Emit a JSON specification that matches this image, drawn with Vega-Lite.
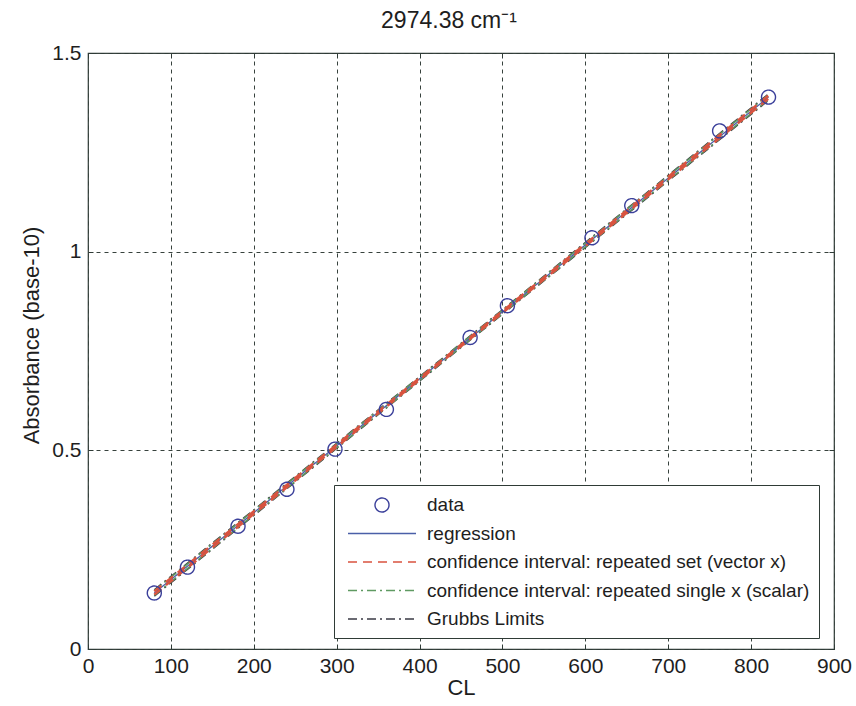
{
  "$schema": "https://vega.github.io/schema/vega-lite/v6.json",
  "width": 746,
  "height": 596,
  "autosize": {"type": "none"},
  "padding": {"left": 88, "top": 53, "right": 22, "bottom": 57},
  "background": "white",
  "title": {"text": "2974.38 cm⁻¹", "fontSize": 23, "fontWeight": "normal", "color": "#1e1e1e", "offset": 9, "anchor": "middle", "dx": -12},
  "datasets": {
    "pts": [
      {"series": "data", "CL": 80, "A": 0.141},
      {"series": "data", "CL": 120, "A": 0.206},
      {"series": "data", "CL": 181, "A": 0.309},
      {"series": "data", "CL": 240, "A": 0.402},
      {"series": "data", "CL": 298, "A": 0.503},
      {"series": "data", "CL": 360, "A": 0.603},
      {"series": "data", "CL": 461, "A": 0.784},
      {"series": "data", "CL": 506, "A": 0.864},
      {"series": "data", "CL": 608, "A": 1.035},
      {"series": "data", "CL": 656, "A": 1.116},
      {"series": "data", "CL": 762, "A": 1.304},
      {"series": "data", "CL": 821, "A": 1.389}
    ],
    "reg": [
      {"series": "regression", "bound": "fit", "CL": 80, "A": 0.141},
      {"series": "regression", "bound": "fit", "CL": 821, "A": 1.389}
    ],
    "civ": [
      {"series": "confidence interval: repeated set (vector x)", "bound": "upper", "CL": 80, "A": 0.145},
      {"series": "confidence interval: repeated set (vector x)", "bound": "upper", "CL": 450, "A": 0.766},
      {"series": "confidence interval: repeated set (vector x)", "bound": "upper", "CL": 821, "A": 1.393},
      {"series": "confidence interval: repeated set (vector x)", "bound": "lower", "CL": 80, "A": 0.137},
      {"series": "confidence interval: repeated set (vector x)", "bound": "lower", "CL": 450, "A": 0.762},
      {"series": "confidence interval: repeated set (vector x)", "bound": "lower", "CL": 821, "A": 1.385}
    ],
    "cis": [
      {"series": "confidence interval: repeated single x (scalar)", "bound": "upper", "CL": 80, "A": 0.147},
      {"series": "confidence interval: repeated single x (scalar)", "bound": "upper", "CL": 450, "A": 0.768},
      {"series": "confidence interval: repeated single x (scalar)", "bound": "upper", "CL": 821, "A": 1.395},
      {"series": "confidence interval: repeated single x (scalar)", "bound": "lower", "CL": 80, "A": 0.135},
      {"series": "confidence interval: repeated single x (scalar)", "bound": "lower", "CL": 450, "A": 0.760},
      {"series": "confidence interval: repeated single x (scalar)", "bound": "lower", "CL": 821, "A": 1.383}
    ],
    "grb": [
      {"series": "Grubbs Limits", "bound": "upper", "CL": 80, "A": 0.149},
      {"series": "Grubbs Limits", "bound": "upper", "CL": 450, "A": 0.769},
      {"series": "Grubbs Limits", "bound": "upper", "CL": 821, "A": 1.397},
      {"series": "Grubbs Limits", "bound": "lower", "CL": 80, "A": 0.133},
      {"series": "Grubbs Limits", "bound": "lower", "CL": 450, "A": 0.759},
      {"series": "Grubbs Limits", "bound": "lower", "CL": 821, "A": 1.381}
    ]
  },
  "config": {
    "font": "Liberation Sans",
    "view": {"stroke": "#2f3b36", "strokeWidth": 1.2},
    "axis": {
      "domain": false,
      "tickColor": "#2f3b36",
      "labelFontSize": 21,
      "labelColor": "#1e1e1e",
      "titleFontSize": 22,
      "titleFontWeight": "normal",
      "titleColor": "#1e1e1e",
      "gridDash": [4, 4],
      "gridColor": "#37423d",
      "gridOpacity": 1,
      "gridWidth": 1
    }
  },
  "resolve": {"axis": {"x": "independent", "y": "independent"}},
  "layer": [
    {
      "data": {"name": "grb"},
      "mark": {"type": "line", "strokeWidth": 1.6},
      "encoding": {
        "x": {"field": "CL", "type": "quantitative", "scale": {"domain": [0, 900], "nice": false},
              "axis": {"orient": "top", "labels": false, "grid": false, "title": null, "values": [0,100,200,300,400,500,600,700,800,900], "tickSize": -5}},
        "y": {"field": "A", "type": "quantitative", "scale": {"domain": [0, 1.5], "nice": false, "zero": false},
              "axis": {"orient": "right", "labels": false, "grid": false, "title": null, "values": [0, 0.5, 1, 1.5], "tickSize": -5}},
        "detail": {"field": "bound"},
        "color": {"field": "series", "type": "nominal",
                  "scale": {"domain": ["data", "regression", "confidence interval: repeated set (vector x)", "confidence interval: repeated single x (scalar)", "Grubbs Limits"],
                            "range": ["#3a3f9a", "#4a5fa8", "#d9533f", "#5f9a62", "#3a3a44"]}},
        "strokeDash": {"field": "series", "type": "nominal",
                  "scale": {"domain": ["data", "regression", "confidence interval: repeated set (vector x)", "confidence interval: repeated single x (scalar)", "Grubbs Limits"],
                            "range": [[1, 0], [1, 0], [9, 6], [9, 4, 2, 4], [9, 4, 2, 4]]}}
      }
    },
    {
      "data": {"name": "cis"},
      "mark": {"type": "line", "strokeWidth": 1.6},
      "encoding": {
        "x": {"field": "CL", "type": "quantitative", "axis": null},
        "y": {"field": "A", "type": "quantitative", "axis": null},
        "detail": {"field": "bound"},
        "color": {"field": "series", "type": "nominal"},
        "strokeDash": {"field": "series", "type": "nominal"}
      }
    },
    {
      "data": {"name": "reg"},
      "mark": {"type": "line", "strokeWidth": 1.3},
      "encoding": {
        "x": {"field": "CL", "type": "quantitative", "axis": null},
        "y": {"field": "A", "type": "quantitative", "axis": null},
        "detail": {"field": "bound"},
        "color": {"field": "series", "type": "nominal"},
        "strokeDash": {"field": "series", "type": "nominal"}
      }
    },
    {
      "data": {"name": "civ"},
      "mark": {"type": "line", "strokeWidth": 2.4},
      "encoding": {
        "x": {"field": "CL", "type": "quantitative", "axis": null},
        "y": {"field": "A", "type": "quantitative", "axis": null},
        "detail": {"field": "bound"},
        "color": {"field": "series", "type": "nominal"},
        "strokeDash": {"field": "series", "type": "nominal"}
      }
    },
    {
      "data": {"name": "pts"},
      "mark": {"type": "point", "filled": false, "size": 400, "strokeWidth": 1.4, "opacity": 1},
      "encoding": {
        "x": {"field": "CL", "type": "quantitative",
              "axis": {"orient": "bottom", "title": "CL", "values": [0,100,200,300,400,500,600,700,800,900], "format": "d", "grid": true, "tickSize": -5, "labelPadding": 11, "titlePadding": 1, "labelFlush": false}},
        "y": {"field": "A", "type": "quantitative",
              "axis": {"orient": "left", "title": "Absorbance (base-10)", "values": [0, 0.5, 1, 1.5], "format": "~g", "grid": true, "tickSize": -5, "labelPadding": 12, "titlePadding": 8, "titleY": 282, "labelFlush": false}},
        "color": {"field": "series", "type": "nominal",
                  "legend": {"title": null, "orient": "none", "legendX": 246, "legendY": 432,
                             "strokeColor": "#2f3b36", "fillColor": "white", "padding": 9,
                             "labelFontSize": 19, "labelColor": "#1e1e1e", "labelOffset": 34,
                             "symbolSize": 400, "symbolStrokeWidth": 1.4, "symbolOffset": 28, "rowPadding": 7.5,
                             "labelLimit": 600,
                             "encode": {"symbols": {"update": {"fill": {"value": "transparent"}}}}}},
        "shape": {"field": "series", "type": "nominal",
                  "scale": {"domain": ["data", "regression", "confidence interval: repeated set (vector x)", "confidence interval: repeated single x (scalar)", "Grubbs Limits"],
                            "range": ["M0.7,0A0.7,0.7,0,1,1,-0.7,0A0.7,0.7,0,1,1,0.7,0Z", "M-3.4,0L3.4,0", "M-3.4,0L3.4,0", "M-3.4,0L3.4,0", "M-3.4,0L3.4,0"]}},
        "strokeDash": {"field": "series", "type": "nominal"}
      }
    }
  ]
}
